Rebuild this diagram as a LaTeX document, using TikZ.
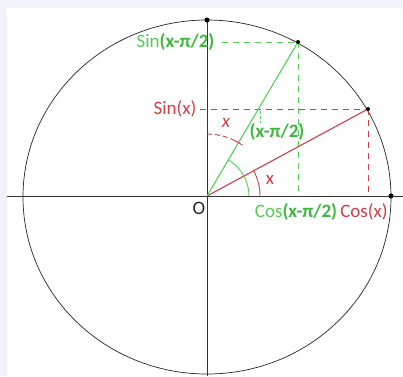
\documentclass[tikz,border=0pt]{standalone}
\usepackage{fontspec}
\setmainfont{Carlito}
\definecolor{myred}{RGB}{208,62,72}
\definecolor{mygreen}{RGB}{84,206,84}
\definecolor{mygreenb}{RGB}{60,185,60}
\definecolor{bgcol}{RGB}{242,242,252}
\begin{document}
\begin{tikzpicture}[x=1pt,y=1pt,
  lbl/.style={inner sep=0pt, font=\fontsize{19}{21}\selectfont},
  axis/.style={draw=black!80, line width=0.9pt},
  reddash/.style={draw=myred, line width=1pt, dash pattern=on 6pt off 5pt},
  greendash/.style={draw=mygreen, line width=1pt, dash pattern=on 6pt off 5pt},
  dotpt/.style={fill=black, circle, inner sep=0pt, minimum size=5pt}]
\fill[bgcol] (-207,-180) rectangle (196,196);
\fill[white] (-200,-180) rectangle (196,188);
\useasboundingbox (-207,-180) rectangle (196,196);

% ellipse
\draw[black!85, line width=0.7pt] (0,-1) ellipse [x radius=184, y radius=177];

% axes
\coordinate (xl) at (-200,0);
\coordinate (xr) at (196,0);
\coordinate (yt) at (0,176);
\coordinate (yb) at (0,-180);
\coordinate (O) at (0,0);
\draw[axis] (xl) -- (xr);
\draw[axis] (yt) -- (yb);

% points
\coordinate (R) at (161,87);
\coordinate (G) at (91,154);
\coordinate (Rx) at (161,0);
\coordinate (Gx) at (91,0);

% labels
\node[lbl, text=myred] (sinx) at (-32,87) {Sin(x)};
\node[lbl, text=mygreen] (sing) at (-31.5,154) {Sin\textcolor{mygreenb}{\textbf{(x-π/2)}}};
\node[lbl, text=myred] (cosx) at (157,-16) {Cos(x)};
\node[lbl, text=mygreen] (cosg) at (89,-16) {Cos\textcolor{mygreenb}{\textbf{(x-π/2)}}};
\node[lbl, text=black!85] (olbl) at (-8,-12) {O};
\node[lbl, text=myred] (xa) at (63,16) {x};
\node[lbl, text=myred] (xb) at (19,73) {\textit{x}};
\node[lbl, text=mygreenb] (xg) at (70,64) {\textbf{(x-π/2)}};

% dashed projections
\draw[reddash] ([xshift=3pt]sinx.east) -- (R);
\draw[reddash] (R) -- (Rx);
\draw[greendash] ([xshift=7pt]sing.east) -- (G);
\draw[greendash] (G) -- (Gx);

% radii
\draw[myred, line width=1.1pt] (O) -- (R);
\draw[mygreen, line width=1.1pt] (O) -- (G);

% angle arcs
\draw[myred, line width=0.9pt] (53,0) arc[start angle=0, end angle=28.4, radius=53];
\draw[mygreen, line width=0.9pt] (42,0) arc[start angle=0, end angle=59.4, radius=42];
\draw[myred, line width=0.9pt, dash pattern=on 5pt off 3pt] (0,62) arc[start angle=90, end angle=64, radius=62];
\draw[myred, line width=0.9pt] (64:62) arc[start angle=64, end angle=55, radius=62];

% small green tick
\coordinate (t1) at (53,85);
\coordinate (t2) at (53,73);
\draw[mygreen, line width=0.9pt, dash pattern=on 3pt off 2pt] (t1) -- (t2);

% dots
\node[dotpt] (dt) at (yt) {};
\node[dotpt] (dr) at (184,0) {};
\node[dotpt, minimum size=4pt] (dR) at (R) {};
\node[dotpt, minimum size=4pt] (dG) at (G) {};
\end{tikzpicture}
\end{document}
